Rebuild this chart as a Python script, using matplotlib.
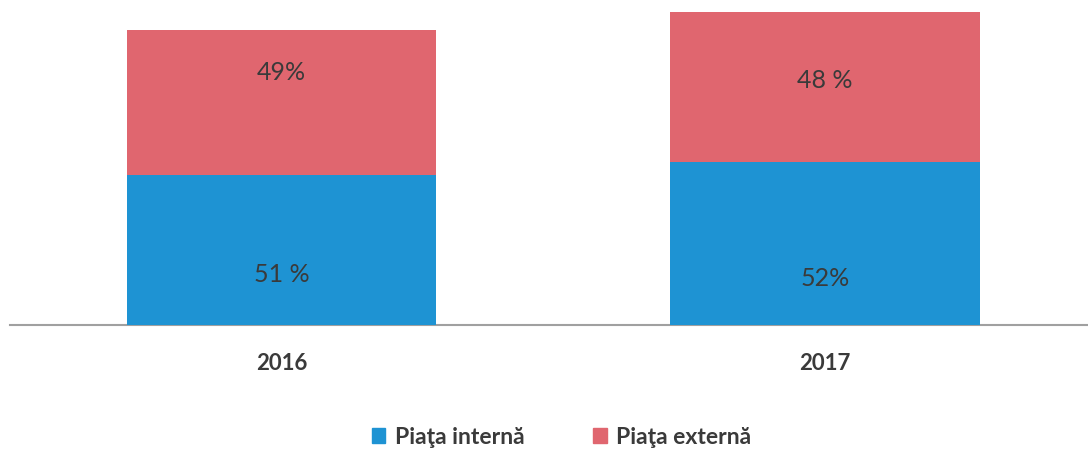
import matplotlib
matplotlib.use("Agg")
import matplotlib.pyplot as plt
from matplotlib.patches import Patch

years = ["2016", "2017"]
internal = [150, 163]
external = [145, 150]
internal_labels = ["51 %", "52%"]
external_labels = ["49%", "48 %"]
internal_label_y = [50, 47]
external_label_y = [252, 245]
series_names = ["Piaţa internă", "Piaţa externă"]

blue = "#1e93d3"
red = "#e0666f"
txt = "#3a3a3a"

plt.rcParams['font.family'] = ['Lato', 'DejaVu Sans']

W, H = 1088, 450
fig = plt.figure(figsize=(W / 100, H / 100), dpi=100)
ax = fig.add_axes([10 / W, 125 / H, 1078 / W, 325 / H])

x = list(range(len(years)))
ax.bar(x, internal, width=0.569, color=blue, zorder=2)
ax.bar(x, external, width=0.569, bottom=internal, color=red, zorder=2)

for i in x:
    ax.text(i, internal_label_y[i], internal_labels[i], ha="center", va="center",
            fontsize=18, color=txt, zorder=3)
    ax.text(i, external_label_y[i], external_labels[i], ha="center", va="center",
            fontsize=18, color=txt, zorder=3)

ax.set_xlim(-0.4995, 1.484)
ax.set_ylim(0, 325)
ax.set_xticks(x)
ax.set_xticklabels(years, fontsize=16, fontweight="bold", color=txt)
ax.tick_params(axis="x", length=0, pad=20)
ax.set_yticks([])
for s in ["top", "left", "right"]:
    ax.spines[s].set_visible(False)
ax.spines["bottom"].set_color("#a0a0a0")
ax.spines["bottom"].set_linewidth(1.5)
ax.spines["bottom"].set_zorder(1)

handles = [Patch(color=blue, label=series_names[0]), Patch(color=red, label=series_names[1])]
fig.legend(handles=handles, loc="center", bbox_to_anchor=(0.516, 1 - 437 / H), ncol=2,
           frameon=False, prop={"size": 16.5, "weight": "bold"}, labelcolor=txt,
           handlelength=0.6, handleheight=0.6, handletextpad=0.4, columnspacing=3.0)

fig.savefig("out.png", dpi=100)
